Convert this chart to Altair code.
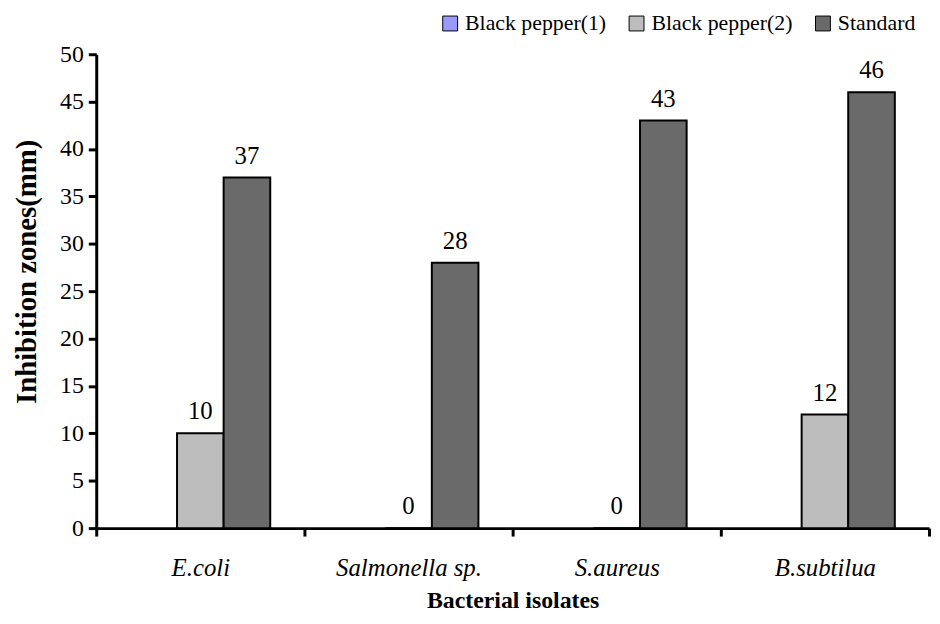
import altair as alt
import pandas as pd

categories = ["E.coli", "Salmonella sp.", "S.aureus", "B.subtilua"]
series = ["Black pepper(1)", "Black pepper(2)", "Standard"]
black_pepper_1 = [None, None, None, None]
black_pepper_2 = [10, 0, 0, 12]
standard = [37, 28, 43, 46]
y_ticks = [0, 5, 10, 15, 20, 25, 30, 35, 40, 45, 50]
colors = ["#9999ff", "#bdbdbd", "#6a6a6a"]

rows = []
for s, vals in zip(series, [black_pepper_1, black_pepper_2, standard]):
    for c, v in zip(categories, vals):
        rows.append({"isolate": c, "series": s, "value": v})
df = pd.DataFrame(rows)

FONT = "Liberation Serif"

x_enc = alt.X(
    "isolate:N",
    sort=categories,
    scale=alt.Scale(paddingInner=0, paddingOuter=0),
    axis=alt.Axis(
        title="Bacterial isolates",
        labelAngle=0,
        labelFontStyle="italic",
        labelFontSize=25,
        labelPadding=20,
        titleFontSize=24,
        titleFontWeight="bold",
        titleY=61,
        tickBand="extent",
    ),
)
xoff = alt.XOffset(
    "series:N",
    sort=series,
    scale=alt.Scale(domain=series, paddingInner=0, paddingOuter=0.734),
)
y_enc = alt.Y(
    "value:Q",
    scale=alt.Scale(domain=[0, 50], nice=False),
    axis=alt.Axis(
        title="Inhibition zones(mm)",
        values=y_ticks,
        labelFontSize=24,
        labelPadding=5,
        titleFontSize=29,
        titleFontWeight="bold",
        titleX=-55,
        titleY=219,
    ),
)

bars = alt.Chart(df).mark_bar(stroke="black", strokeWidth=2).encode(
    x=x_enc,
    xOffset=xoff,
    y=y_enc,
    color=alt.Color(
        "series:N",
        scale=alt.Scale(domain=series, range=colors),
        legend=alt.Legend(
            title=None,
            orient="none",
            direction="horizontal",
            legendX=346,
            legendY=-42,
            symbolType="square",
            symbolSize=225,
            symbolStrokeColor="black",
            symbolStrokeWidth=1,
            symbolOpacity=1,
            labelFontSize=22,
            labelFont=FONT,
            labelOffset=4,
            columnPadding=19,
        ),
    ),
)

labels = alt.Chart(df).transform_filter(
    "datum.value != null"
).mark_text(baseline="bottom", dy=-9, fontSize=25, font=FONT, color="black").encode(
    x=alt.X("isolate:N", sort=categories),
    xOffset=xoff,
    y="value:Q",
    text=alt.Text("value:Q", format="d"),
)

chart = (
    alt.layer(bars, labels)
    .properties(
        width=840,
        height=478,
        autosize=alt.AutoSizeParams(type="none"),
        padding={"left": 89, "top": 44, "right": 3, "bottom": 86},
    )
    .configure(font=FONT)
    .configure_view(stroke=None)
    .configure_axis(
        grid=False,
        domainColor="black",
        domainWidth=3,
        tickColor="black",
        tickWidth=3,
        tickSize=8,
        labelColor="black",
        titleColor="black",
        labelFont=FONT,
        titleFont=FONT,
    )
    .configure_legend(labelFont=FONT, labelColor="black")
    .configure_text(font=FONT)
)

chart.save("out.html", embed_options={"renderer": "svg", "actions": False})
